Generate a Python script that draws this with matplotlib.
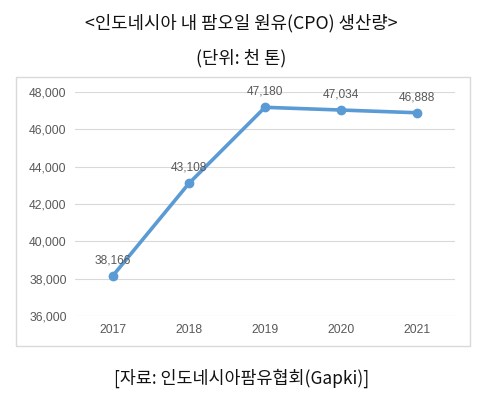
import matplotlib.pyplot as plt
from matplotlib.patches import Rectangle

plt.rcParams['font.family'] = ['Noto Sans CJK KR', 'DejaVu Sans']

years = ['2017', '2018', '2019', '2020', '2021']
production = [38166, 43108, 47180, 47034, 46888]
yticks = [36000, 38000, 40000, 42000, 44000, 46000, 48000]

fig = plt.figure(figsize=(4.83, 3.98), dpi=100)

# outer chart frame
fig.patches.append(Rectangle((16 / 483, 52 / 398), 454 / 483, 269 / 398,
                             transform=fig.transFigure, fill=False,
                             edgecolor='#d9d9d9', linewidth=1))

ax = fig.add_axes([75 / 483, 82 / 398, 380 / 483, 224 / 398])
x = range(len(years))
ax.plot(x, production, color='#5b9bd5', linewidth=2.6, marker='o',
        markersize=6, zorder=3)
for i, v in enumerate(production):
    ax.annotate(f"{v:,}", (i, v), textcoords='offset points', xytext=(0, 9),
                ha='center', fontsize=8.6, color='#595959',
                family=['Liberation Sans', 'DejaVu Sans'])

ax.set_xlim(-0.5, 4.5)
ax.set_ylim(36000, 48000)
ax.set_yticks(yticks)
ax.set_yticklabels([f"{t:,}" for t in yticks])
ax.set_xticks(list(x))
ax.set_xticklabels(years)
ax.grid(axis='y', color='#d9d9d9', linewidth=0.8)
ax.set_axisbelow(True)
for s in ax.spines.values():
    s.set_visible(False)
ax.tick_params(length=0, labelsize=8.7, colors='#595959', pad=6)
for lab in ax.get_xticklabels() + ax.get_yticklabels():
    lab.set_family(['Liberation Sans', 'DejaVu Sans'])

fig.text(0.5, 1 - 23 / 398, '<인도네시아 내 팜오일 원유(CPO) 생산량>',
         ha='center', va='center', fontsize=12.8, color='#111111')
fig.text(0.5, 1 - 58 / 398, '(단위: 천 톤)', ha='center', va='center',
         fontsize=12.8, color='#111111')
fig.text(0.5, 1 - 378 / 398, '[자료: 인도네시아팜유협회(Gapki)]',
         ha='center', va='center', fontsize=12.5, color='#111111')

fig.savefig('out.png', dpi=100)
